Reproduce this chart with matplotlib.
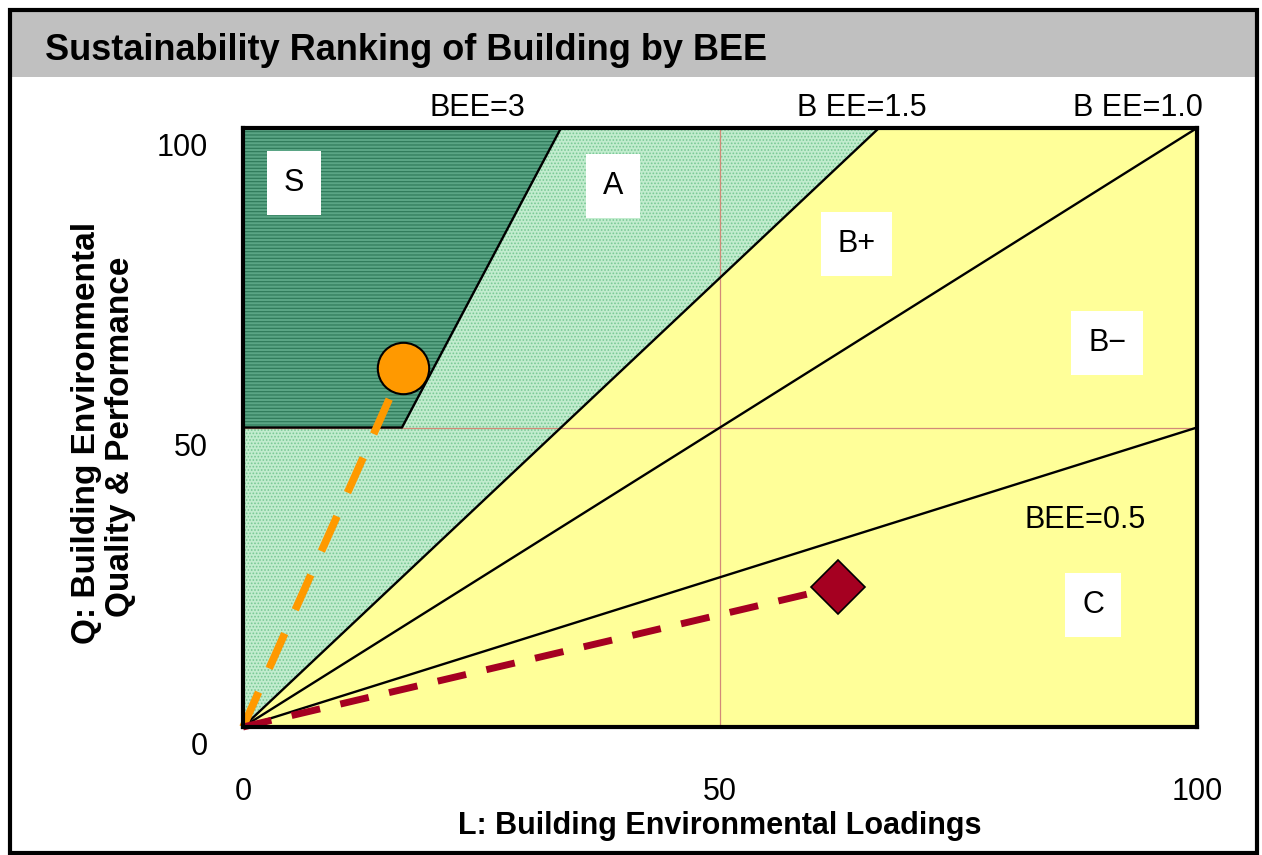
import numpy as np
import matplotlib
matplotlib.use('Agg')
import matplotlib.pyplot as plt
import matplotlib.transforms as mtransforms
from matplotlib.patches import Polygon, Rectangle

plt.rcParams['font.family'] = ['Liberation Sans', 'DejaVu Sans']
plt.rcParams['hatch.linewidth'] = 0.8

# BEE boundary slopes (Q = BEE * L)
bee_s = 3.0
bee_a = 1.5
bee_b = 1.0
bee_c = 0.5
q_s_min = 50          # rank S needs Q >= 50
lim = 100

# two example buildings (L, Q)
bldg_good = (16.8, 60.0)
bldg_poor = (62.4, 23.4)

# rank labels and their positions (L, Q)
rank_names = ['S', 'A', 'B+', 'B\u2212', 'C']
rank_x = [5.3, 38.8, 64.3, 90.6, 89.1]
rank_y = [90.8, 90.3, 80.6, 64.1, 20.4]

# BEE line captions
bee_names = ['BEE=3', 'B EE=1.5', 'B EE=1.0', 'BEE=0.5']
bee_x = [24.6, 64.9, 93.8, 88.3]
bee_y = [103.3, 103.3, 103.3, 34.6]

tick_vals = [0, 50, 100]

W, H = 1262, 855
fig = plt.figure(figsize=(W / 100, H / 100), dpi=100)

# outer frame and grey title band
fig.add_artist(Rectangle((12 / W, 1 - 77 / H), 1244 / W, 65 / H,
                         transform=fig.transFigure, facecolor='#c0c0c0',
                         edgecolor='none', zorder=0))
fig.add_artist(Rectangle((10 / W, 1 - 853 / H), 1247 / W, 843 / H,
                         transform=fig.transFigure, facecolor='none',
                         edgecolor='black', lw=3, zorder=1))
fig.text(45 / W, 1 - 50 / H, 'Sustainability Ranking of Building by BEE',
         fontsize=26, fontweight='bold', ha='left', va='center')

ax = fig.add_axes([243 / W, 1 - 727 / H, (1197 - 243) / W, (727 - 128) / H])
ax.set_xlim(0, lim)
ax.set_ylim(0, lim)

# regions: yellow background, A wedge, S block
ax.add_patch(Rectangle((0, 0), lim, lim, facecolor='#ffff99',
                       edgecolor='none', zorder=0.2))
ax.add_patch(Polygon([(0, 0), (lim / bee_a, lim), (0, lim)],
                     facecolor='#c2ecce', edgecolor='#78c895', hatch='.....',
                     lw=0, zorder=0.3))
ax.add_patch(Polygon([(0, q_s_min), (q_s_min / bee_s, q_s_min),
                      (lim / bee_s, lim), (0, lim)],
                     facecolor='#5aa585', edgecolor='#2c7858', hatch='-----',
                     lw=0, zorder=0.4))

# thin reddish grid at 50
ax.axvline(50, color='#d28a78', lw=0.9, zorder=1)
ax.axhline(50, color='#d28a78', lw=0.9, zorder=1)

# BEE boundary lines
for b in [bee_a, bee_b, bee_c]:
    xe = min(lim, lim / b)
    ax.plot([0, xe], [0, b * xe], color='black', lw=1.7, zorder=2)
ax.plot([0, q_s_min / bee_s, lim / bee_s], [q_s_min, q_s_min, lim],
        color='black', lw=1.7, zorder=2)

# building paths and markers
ax.plot([0, bldg_good[0]], [0, bldg_good[1]], color='#ff9900', lw=5.5,
        dashes=(5, 3.4), dash_capstyle='butt', zorder=3, clip_on=False)
ax.plot([0, bldg_poor[0]], [0, bldg_poor[1]], color='#a50021', lw=5,
        dashes=(4.2, 3.0), dash_capstyle='butt', zorder=3, clip_on=False)
ax.plot(*bldg_good, 'o', ms=37, mfc='#ff9900', mec='black', mew=1.5,
        zorder=4)
ax.plot(*bldg_poor, 'D', ms=27, mfc='#a50021', mec='black', mew=1.2,
        zorder=4)

for name, x, y in zip(rank_names, rank_x, rank_y):
    ax.text(x, y, name, fontsize=22, ha='center', va='center', zorder=5,
            bbox=dict(facecolor='white', edgecolor='none', pad=12))

for name, x, y in zip(bee_names, bee_x, bee_y):
    ax.text(x, y, name, fontsize=22, ha='center', va='center', zorder=5,
            clip_on=False)

# axes styling
for sp in ax.spines.values():
    sp.set_linewidth(3)
    sp.set_color('black')
    sp.set_zorder(6)
ax.set_xticks(tick_vals)
ax.set_yticks(tick_vals)
ax.tick_params(length=0, labelsize=22)
ax.tick_params(axis='x', pad=36)
ax.tick_params(axis='y', pad=25)
off = mtransforms.ScaledTranslation(0, -12 / 72, fig.dpi_scale_trans)
for lab in ax.get_yticklabels():
    lab.set_transform(lab.get_transform() + off)

fig.text(720 / W, 1 - 826 / H, 'L: Building Environmental Loadings',
         fontsize=22, fontweight='bold', ha='center', va='center')
fig.text(87 / W, 1 - 433 / H, 'Q: Building Environmental',
         fontsize=24, fontweight='bold', ha='center', va='center',
         rotation=90)
fig.text(120 / W, 1 - 437 / H, 'Quality & Performance',
         fontsize=24, fontweight='bold', ha='center', va='center',
         rotation=90)

fig.savefig('out.png', dpi=100)
